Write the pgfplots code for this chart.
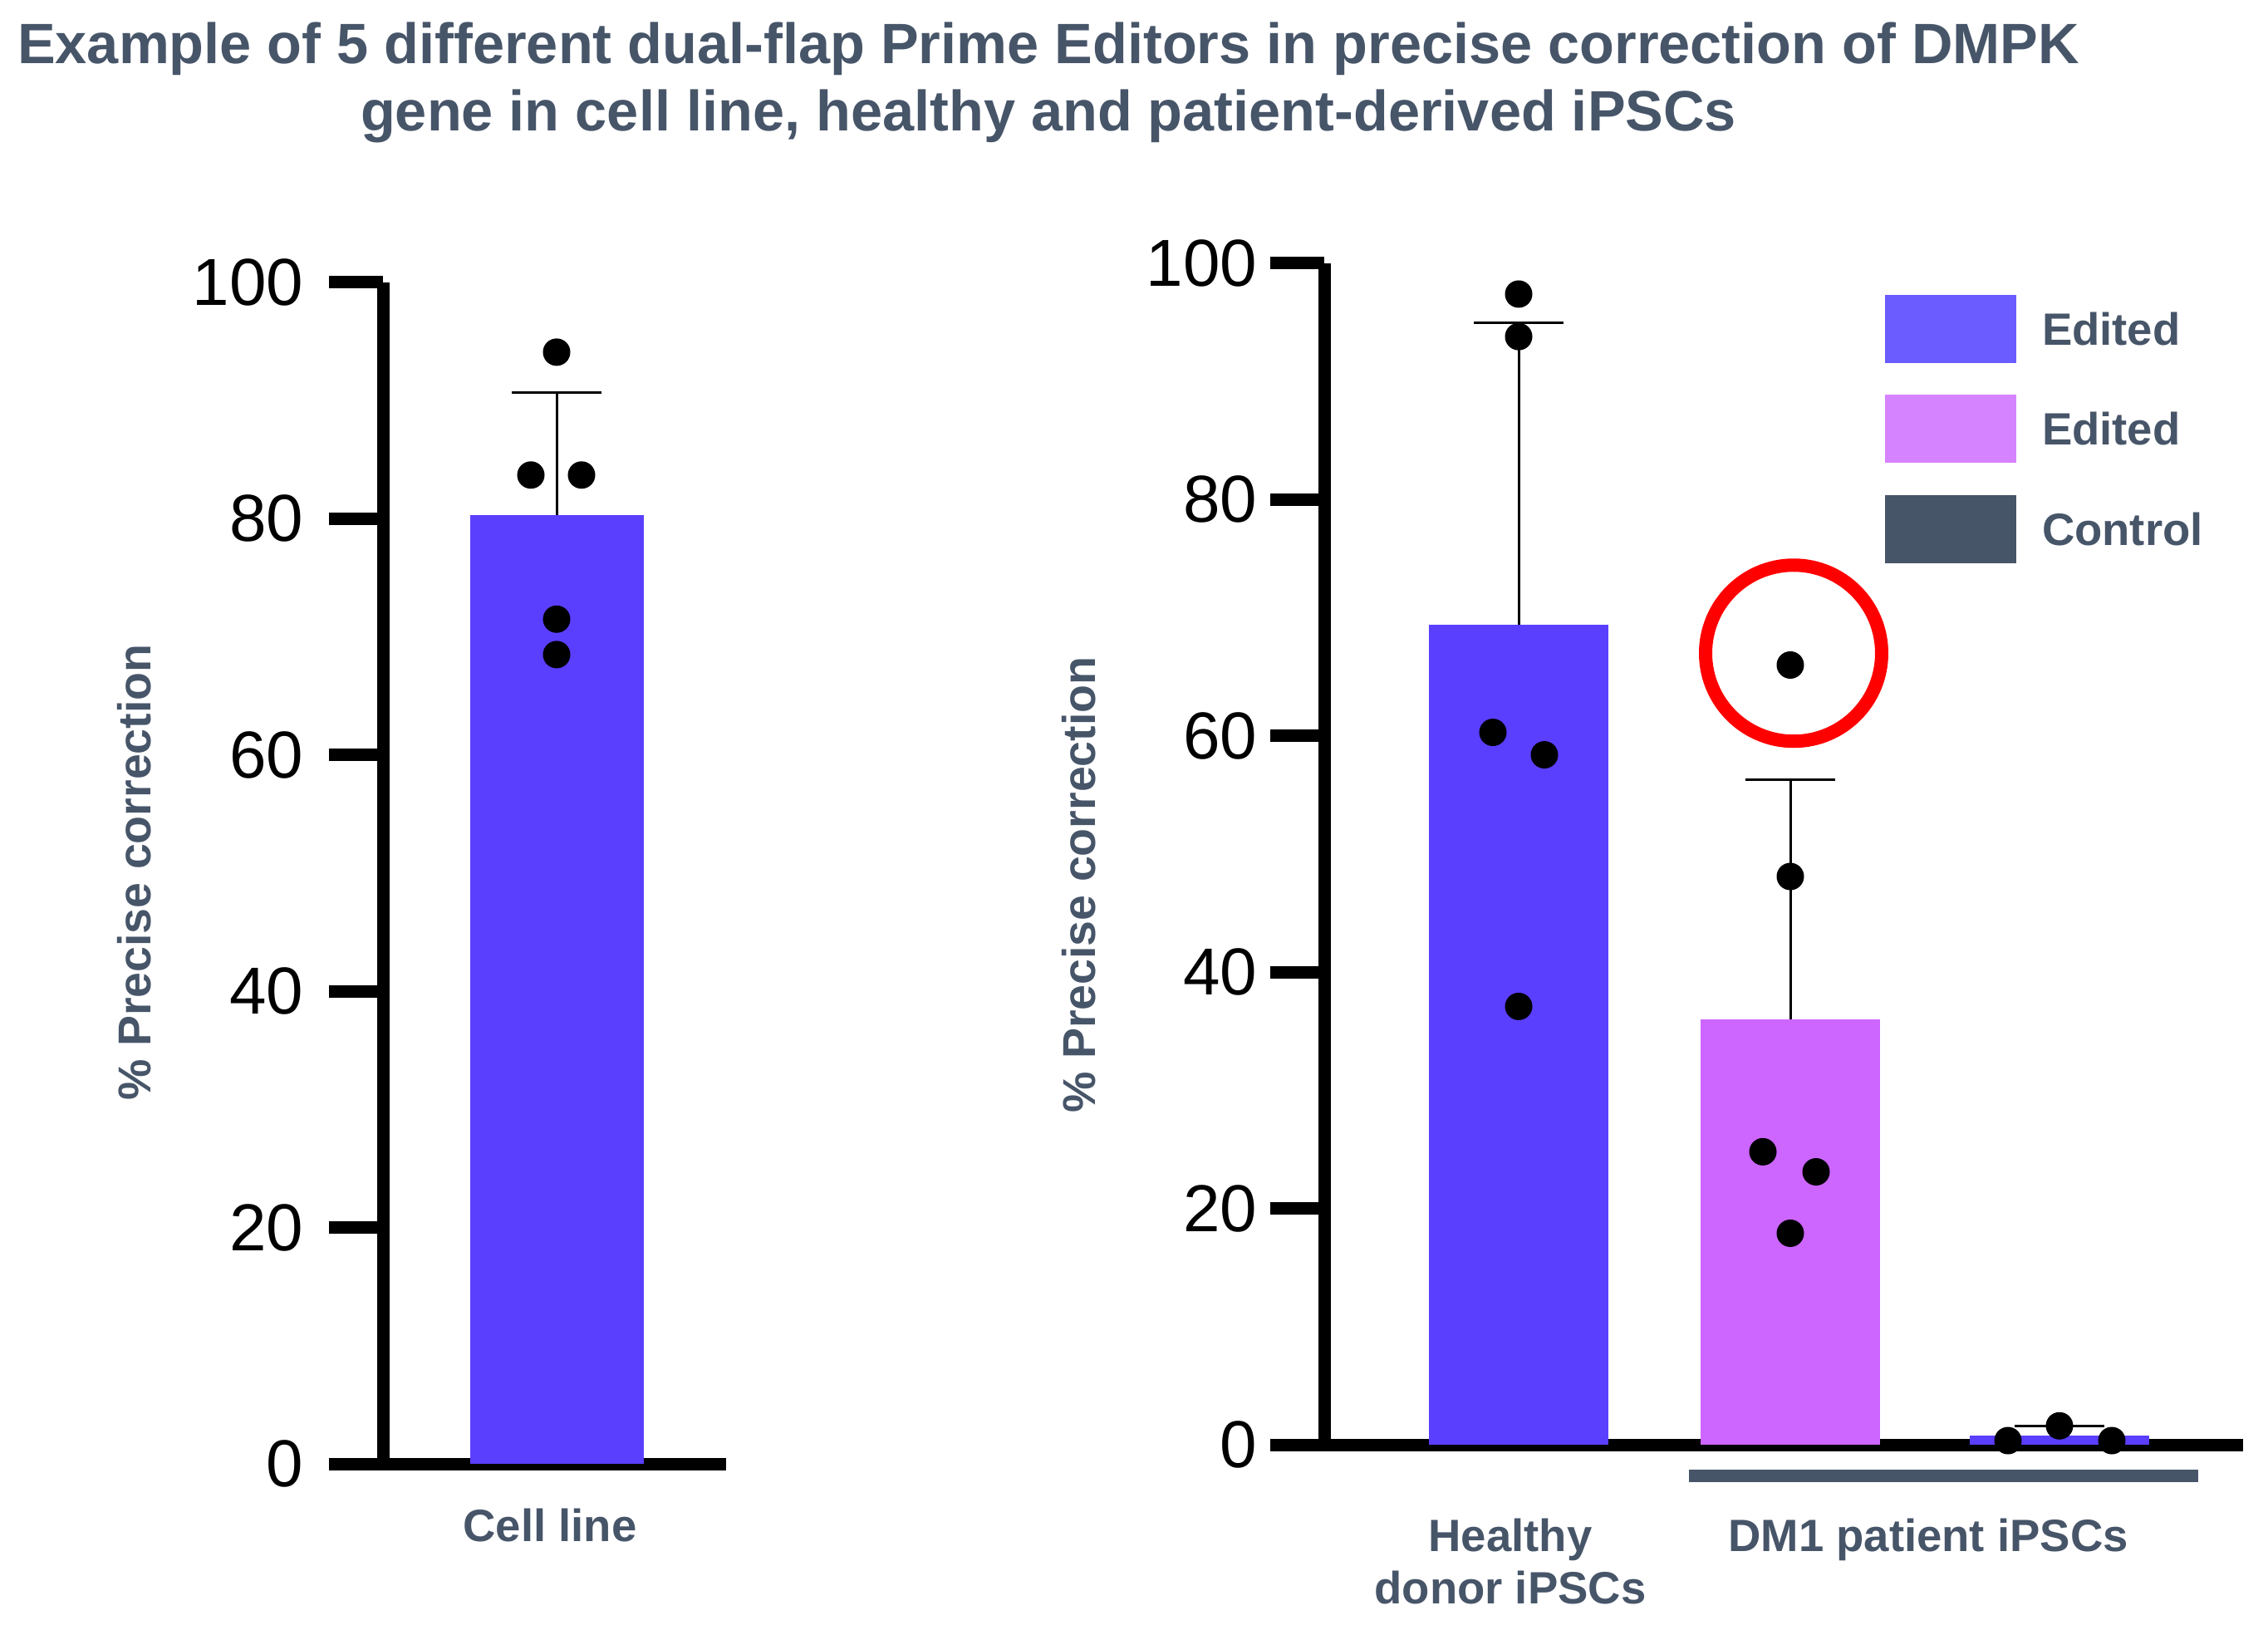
\documentclass[border=0pt]{standalone}
\usepackage{fontspec}
\setmainfont{Liberation Sans}
\usepackage{pgfplots}
\pgfplotsset{compat=1.18}
\definecolor{barblue}{HTML}{5B3FFF}
\definecolor{barpink}{HTML}{CC66FF}
\definecolor{legblue}{HTML}{6B5CFF}
\definecolor{legpink}{HTML}{D683FF}
\definecolor{slate}{HTML}{475569}
\pgfplotsset{
  myaxis/.style={
    scale only axis, height=284.4pt,
    ymin=0, ymax=100, ytick={0,20,...,100},
    axis x line*=bottom, axis y line*=left,
    axis line style={-, line width=3pt, black},
    tick align=outside, major tick length=13pt,
    ytick style={line width=3pt, black},
    xtick style={draw=none},
    yticklabel style={font=\fontsize{16}{16}\selectfont, inner sep=0pt, black},
    /pgf/number format/assume math mode=true,
    xticklabel style={font=\bfseries\fontsize{10.9}{12.6}\selectfont, text=slate, anchor=base, inner sep=0pt},
    clip=false,
    error bars/error bar style={line width=0.6pt, black},
    error bars/error mark options={rotate=90, line width=0.6pt, black, mark size=10.8pt},
  },
  mybar/.style={ybar, bar shift=0pt, draw=none, fill=#1, forget plot,
    error bars/y dir=plus, error bars/y explicit},
  mydots/.style={only marks, mark=*, mark size=3.1pt, black, forget plot},
}
\begin{document}
\begin{tikzpicture}
\useasboundingbox (0,0) rectangle (546pt,391pt);
\node[anchor=base, font=\bfseries\fontsize{13.7}{16}\selectfont, text=slate] at (252.4pt,375.6pt) {Example of 5 different dual-flap Prime Editors in precise correction of DMPK};
\node[anchor=base, font=\bfseries\fontsize{13.7}{16}\selectfont, text=slate] at (252.4pt,359.4pt) {gene in cell line, healthy and patient-derived iPSCs};

\begin{axis}[myaxis,
  at={(92.2pt,38.6pt)}, anchor=south west, width=82.6pt,
  xmin=-209, xmax=204,
  xtick={-8}, xticklabels={Cell line}, xticklabel shift=5.7pt,
  yticklabel shift=6pt,
  ylabel={\% Precise correction},
  every axis y label/.style={at={(axis description cs:-0.724,0.5007)}, rotate=90, anchor=center,
    font=\bfseries\fontsize{11.1}{13}\selectfont, text=slate},
]
\addplot[mybar=barblue, bar width=209] coordinates {(0,80.3) +- (0,10.4)};
\addplot[mydots] coordinates {(0,94.1) (-31,83.7) (30,83.7) (0,71.5) (0,68.5)};
\end{axis}

\begin{axis}[myaxis,
  at={(318.8pt,43.2pt)}, anchor=south west, width=221.2pt,
  xmin=-234, xmax=872,
  xtick={-10,493},
  xticklabels={{\begin{tabular}[t]{@{}c@{}}Healthy\\donor iPSCs\end{tabular}}, DM1 patient iPSCs},
  xticklabel shift=12.7pt,
  yticklabel shift=3pt,
  ylabel={\% Precise correction},
  every axis y label/.style={at={(axis description cs:-0.2667,0.474)}, rotate=90, anchor=center,
    font=\bfseries\fontsize{11.1}{13}\selectfont, text=slate},
  legend style={at={(axis description cs:0.6094,0.974)}, anchor=north west, draw=none, fill=none,
    inner sep=0pt, row sep=7.7pt, font=\bfseries\fontsize{10.9}{12}\selectfont, text=slate,
    nodes={inner sep=0pt}, /tikz/every odd column/.append style={column sep=6.2pt}},
  legend cell align=left,
]
\addplot[mybar=barblue, bar width=216] coordinates {(0,69.4) +- (0,25.6)};
\addplot[mybar=barpink, bar width=216] coordinates {(327,36.0) +- (0,20.3)};
\addplot[mybar=barblue, bar width=216] coordinates {(651,0.8) +- (0,0.8)};
\addplot[mydots] coordinates {(0,97.4) (0,93.8) (-31,60.3) (31,58.4) (0,37.1)};
\addplot[mydots] coordinates {(327,66.0) (327,48.1) (294,24.8) (358,23.1) (327,17.9)};
\addplot[mydots] coordinates {(589,0.35) (651,1.6) (714,0.35)};
\draw[red, line width=3.2pt] (axis cs:331,67.0) circle[radius=21.2pt];
\draw[slate, line width=3pt] (axis cs:205,-2.64) -- (axis cs:818,-2.64);
\addlegendimage{legend image code/.code={\fill[legblue] (0pt,-7.3pt) rectangle (31.2pt,8.7pt);}}
\addlegendentry{Edited}
\addlegendimage{legend image code/.code={\fill[legpink] (0pt,-7.3pt) rectangle (31.2pt,8.7pt);}}
\addlegendentry{Edited}
\addlegendimage{legend image code/.code={\fill[slate] (0pt,-7.3pt) rectangle (31.2pt,8.7pt);}}
\addlegendentry{Control}
\end{axis}
\end{tikzpicture}
\end{document}
